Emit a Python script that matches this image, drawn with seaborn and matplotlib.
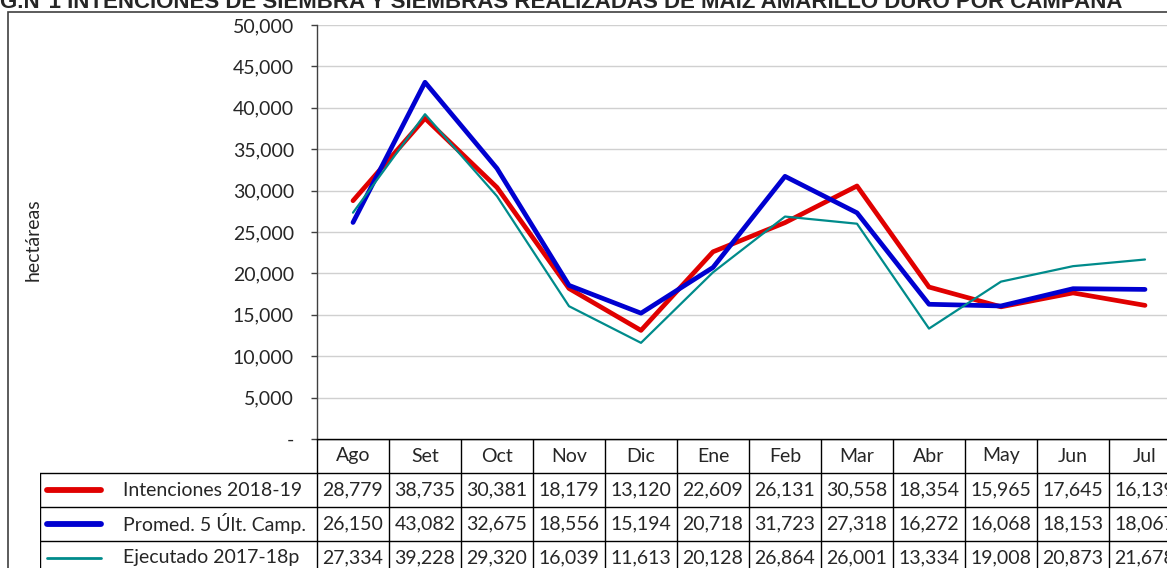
import matplotlib
matplotlib.use("Agg")
import matplotlib.pyplot as plt
from matplotlib.patches import Rectangle
import pandas as pd
import seaborn as sns

months = ["Ago", "Set", "Oct", "Nov", "Dic", "Ene", "Feb", "Mar", "Abr", "May", "Jun", "Jul"]
intenciones = [28779, 38735, 30381, 18179, 13120, 22609, 26131, 30558, 18354, 15965, 17645, 16139]
promedio = [26150, 43082, 32675, 18556, 15194, 20718, 31723, 27318, 16272, 16068, 18153, 18067]
ejecutado = [27334, 39228, 29320, 16039, 11613, 20128, 26864, 26001, 13334, 19008, 20873, 21678]
series_names = ["Intenciones 2018-19", "Promed. 5 Últ. Camp.", "Ejecutado 2017-18p"]
y_ticks = [0, 5000, 10000, 15000, 20000, 25000, 30000, 35000, 40000, 45000, 50000]

title = "G.N°1 INTENCIONES DE SIEMBRA Y SIEMBRAS REALIZADAS DE MAÍZ AMARILLO DURO POR CAMPAÑA"

sns.set_theme(style="white")
plt.rcParams["font.family"] = ["Lato", "DejaVu Sans"]

W, H = 1167, 568
fig = plt.figure(figsize=(W / 100, H / 100), dpi=100)

styles = [
    {"color": "#e00000", "lw": 3.4},
    {"color": "#0000d0", "lw": 3.4},
    {"color": "#008b8b", "lw": 1.6},
]
fs = 14

# outer frame and cut-off title
fig.patches.append(Rectangle((8 / W, -0.1), 1.2, 1 - 12 / H + 0.1, transform=fig.transFigure,
                             fill=False, edgecolor="#404040", lw=1.2))
fig.text(0.0, 1 - 8 / H, title, fontsize=16, fontweight="bold", family="Liberation Sans",
         va="baseline", ha="left")

# main chart
col_w = 72
x0 = 317
y_top, y_zero = 25, 439
ax = fig.add_axes([x0 / W, (H - y_zero) / H, 12 * col_w / W, (y_zero - y_top) / H])
pos = list(range(len(months)))
df = pd.DataFrame({"pos": pos * 3,
                   "value": intenciones + promedio + ejecutado,
                   "serie": [s for s in series_names for _ in months]})
for name, st in zip(series_names, styles):
    sub = df[df["serie"] == name]
    sns.lineplot(data=sub, x="pos", y="value", ax=ax, color=st["color"], lw=st["lw"], sort=False)

ax.set_xlim(-0.5, 11.5)
ax.set_ylim(0, 50000)
ax.set_yticks(y_ticks)
ax.set_yticklabels(["-"] + [f"{v:,}" for v in y_ticks[1:]], fontsize=fs)
ax.set_xticks([])
ax.set_xlabel("")
ax.set_ylabel("")
ax.yaxis.grid(True, color="#d0d0d0", lw=1)
ax.tick_params(axis="y", direction="out", length=4.5, width=1, color="#404040", pad=12, left=True)
for s in ["top", "right"]:
    ax.spines[s].set_visible(False)
ax.spines["left"].set_color("#404040")
ax.spines["bottom"].set_color("#202020")
ax.spines["left"].set_linewidth(1)
ax.spines["bottom"].set_linewidth(1)

fig.text(33 / W, 1 - 240 / H, "hectáreas", rotation=90, fontsize=fs, va="center", ha="center")

# data table below
row_h = 34
lab_left = -0.5 - (x0 - 40) / col_w
tab = fig.add_axes([40 / W, (H - y_zero - 4 * row_h) / H, (x0 - 40 + 12 * col_w) / W, 4 * row_h / H])
tab.set_xlim(lab_left, 11.5)
tab.set_ylim(4, 0)
tab.axis("off")

lc = "#000000"
for k in range(13):
    tab.plot([k - 0.5, k - 0.5], [0, 4], color=lc, lw=1)
tab.plot([-0.5, 11.5], [0, 0], color=lc, lw=1)
for r in [1, 2, 3]:
    tab.plot([lab_left, 11.5], [r, r], color=lc, lw=1)
tab.plot([lab_left, lab_left], [1, 4], color=lc, lw=1)

for i, m in enumerate(months):
    tab.text(i, 0.5, m, ha="center", va="center", fontsize=fs)

rows = [intenciones, promedio, ejecutado]
for r, (name, vals, st) in enumerate(zip(series_names, rows, styles), start=1):
    tab.plot([lab_left + 0.093, lab_left + 0.843], [r + 0.5, r + 0.5], color=st["color"],
             lw=st["lw"] + 0.8 if st["lw"] > 2 else st["lw"] + 0.4, solid_capstyle="round")
    tab.text(lab_left + 1.153, r + 0.5, name, ha="left", va="center", fontsize=fs)
    for i, v in enumerate(vals):
        tab.text(i, r + 0.5, f"{v:,}", ha="center", va="center", fontsize=fs)

fig.savefig("out.png", dpi=100)
